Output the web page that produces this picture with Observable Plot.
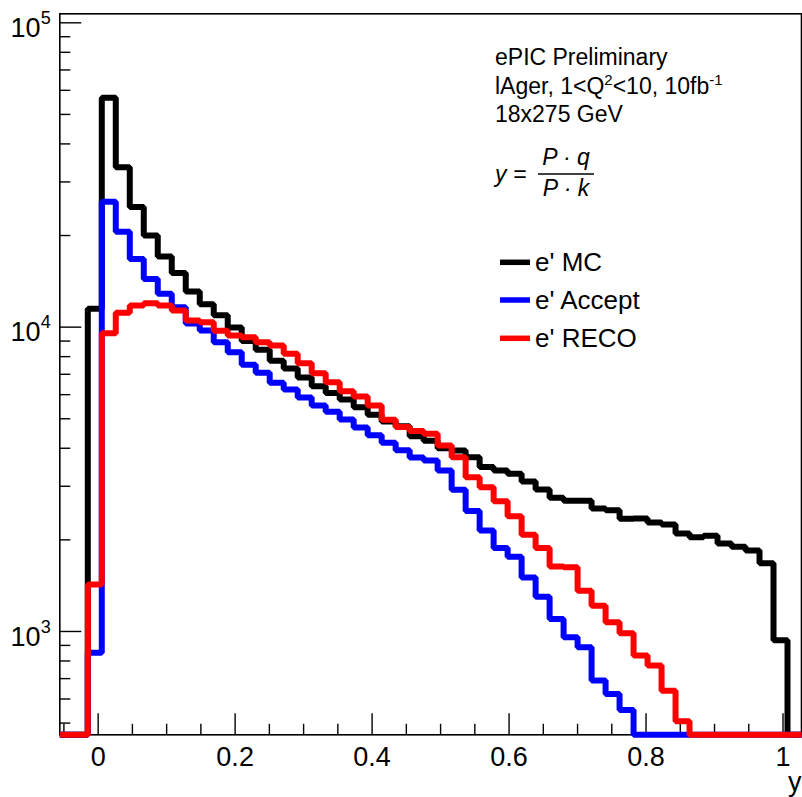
<!DOCTYPE html>
<html><head><meta charset="utf-8">
<script src="https://cdn.jsdelivr.net/npm/d3@7"></script>
<script src="https://cdn.jsdelivr.net/npm/@observablehq/plot@0.6"></script>
<style>html,body{margin:0;padding:0;background:#fff;} #chart svg{display:block;}</style>
</head><body><div id="chart"></div>
<script>
// ---- data ----
const xMin = -0.056, xMax = 1.027, nBins = 53;
const mcCounts = [0, 0, 11500, 56700, 33500, 24800, 20000, 17050, 15050, 13100,
  11900, 10950, 9970, 9000, 8420, 7750, 7310, 6830, 6400, 6080,
  5780, 5450, 5150, 4900, 4720, 4380, 4230, 4000, 3930, 3740,
  3470, 3380, 3300, 3110, 2930, 2750, 2690, 2690, 2535, 2500,
  2345, 2350, 2280, 2245, 2100, 2040, 2065, 1945, 1900, 1845,
  1675, 935, 0];
const acceptCounts = [0, 0, 851, 25800, 20570, 16760, 14400, 12870, 11630, 10275,
  9745, 8920, 8270, 7530, 7075, 6560, 6240, 5870, 5525, 5270,
  4970, 4680, 4410, 4170, 3940, 3730, 3645, 3380, 2920, 2490,
  2145, 1880, 1760, 1505, 1300, 1100, 957, 887, 690, 623,
  552, 0, 0, 0, 0, 0, 0, 0, 0, 0,
  0, 0, 0];
const recoCounts = [0, 0, 1426, 9550, 11140, 11780, 11985, 11780, 11340, 10510,
  10380, 9730, 9385, 9270, 8920, 8700, 8170, 7605, 7055, 6590,
  6160, 5915, 5525, 4960, 4700, 4560, 4460, 4083, 3737, 3213,
  2978, 2680, 2390, 2080, 1880, 1634, 1625, 1362, 1215, 1072,
  986, 834, 773, 639, 507, 0, 0, 0, 0, 0,
  0, 0, 0];
const seriesNames = ["e' MC", "e' Accept", "e' RECO"];
const seriesColors = ["#000000", "#0000ff", "#ff0000"];
const xMajorTicks = [0, 0.2, 0.4, 0.6, 0.8, 1];
const xMinorTicks = [-0.05, 0.05, 0.1, 0.15, 0.25, 0.3, 0.35, 0.45, 0.5, 0.55, 0.65, 0.7, 0.75, 0.85, 0.9, 0.95];
const yMajorTicks = [1000, 10000, 100000];
const yMinorTicks = [500, 600, 700, 800, 900, 2000, 3000, 4000, 5000, 6000, 7000, 8000, 9000,
  20000, 30000, 40000, 50000, 60000, 70000, 80000, 90000];
const yMin = 457.6, yMax = 107050;
const infoLines = ["ePIC Preliminary", "18x275 GeV"];
const xTitle = "y";

// ---- layout ----
const W = 802, H = 797;
const mL = 59.3, mR = 1, mT = 13.3, mB = 62.7;
const frameW = W - mL - mR, frameH = H - mT - mB;
const FONT = "'Liberation Sans', Arial, Helvetica, sans-serif";
const binW = (xMax - xMin) / nBins;

function steps(counts) {
  const pts = [];
  counts.forEach((c, i) => {
    const v = Math.max(c, yMin);
    pts.push({x: xMin + i * binW, y: v});
    pts.push({x: xMin + (i + 1) * binW, y: v});
  });
  return pts;
}
const allSeries = [mcCounts, acceptCounts, recoCounts];

const chart = Plot.plot({
  width: W, height: H,
  marginLeft: mL, marginRight: mR, marginTop: mT, marginBottom: mB,
  style: {fontFamily: FONT, background: "#fff", color: "#000"},
  x: {domain: [xMin, xMax], axis: null},
  y: {type: "log", domain: [yMin, yMax], axis: null},
  marks: [
    Plot.frame({stroke: "#000", strokeWidth: 1.6}),
    Plot.tickX(xMajorTicks, {x: d => d, insetTop: frameH - 21, stroke: "#000", strokeWidth: 1.4}),
    Plot.tickX(xMinorTicks, {x: d => d, insetTop: frameH - 10.5, stroke: "#000", strokeWidth: 1.4}),
    Plot.tickY(yMajorTicks, {y: d => d, insetRight: frameW - 22, stroke: "#000", strokeWidth: 1.4}),
    Plot.tickY(yMinorTicks, {y: d => d, insetRight: frameW - 11, stroke: "#000", strokeWidth: 1.4}),
    Plot.text(xMajorTicks, {x: d => d, frameAnchor: "bottom", text: d => String(d), lineAnchor: "bottom",
      dy: 30.7, fontSize: 27, fill: "#000", fontFamily: FONT}),
    Plot.text(yMajorTicks, {y: d => d, frameAnchor: "left", text: () => "10", textAnchor: "end", lineAnchor: "bottom",
      dx: -19.3, dy: 14.3, fontSize: 27, fill: "#000", fontFamily: FONT}),
    Plot.text(yMajorTicks, {y: d => d, frameAnchor: "left", text: d => String(Math.round(Math.log10(d))), textAnchor: "start",
      lineAnchor: "bottom", dx: -19, dy: 1.2, fontSize: 18, fill: "#000", fontFamily: FONT}),
    ...allSeries.map((counts, i) => Plot.line(steps(counts), {
      x: "x", y: "y", stroke: seriesColors[i], strokeWidth: 6,
      strokeLinejoin: "miter", strokeLinecap: "butt"
    }))
  ]
});
document.getElementById("chart").appendChild(chart);

// ---- annotations ----
const svg = d3.select(chart);
const g = svg.append("g").attr("font-family", FONT).attr("fill", "#000").attr("text-anchor", "start");
g.append("text").attr("x", 495).attr("y", 65).attr("font-size", 23).text(infoLines[0]);
const l2 = g.append("text").attr("x", 495).attr("y", 93.5).attr("font-size", 23);
l2.append("tspan").text("lAger, 1<Q");
l2.append("tspan").attr("dy", -9).attr("font-size", 15).text("2");
l2.append("tspan").attr("dy", 9).text("<10, 10fb");
l2.append("tspan").attr("dy", -9).attr("font-size", 15).text("-1");
g.append("text").attr("x", 495).attr("y", 122).attr("font-size", 23).text(infoLines[1]);

// formula
const fg = g.append("g").attr("font-style", "italic").attr("font-size", 23);
fg.append("text").attr("x", 495).attr("y", 182).text("y =");
fg.append("text").attr("x", 566).attr("y", 165).attr("text-anchor", "middle").text("P \u00b7 q");
fg.append("text").attr("x", 566).attr("y", 196).attr("text-anchor", "middle").text("P \u00b7 k");
fg.append("line").attr("x1", 538).attr("x2", 594).attr("y1", 174).attr("y2", 174)
  .attr("stroke", "#000").attr("stroke-width", 1.5);

// legend
const legY = [262.3, 300, 338.3];
seriesNames.forEach((name, i) => {
  g.append("line").attr("x1", 500).attr("x2", 530).attr("y1", legY[i]).attr("y2", legY[i])
    .attr("stroke", seriesColors[i]).attr("stroke-width", 5.5);
  g.append("text").attr("x", 535).attr("y", legY[i] + 9).attr("font-size", 26).text(name);
});

// x-axis title
g.append("text").attr("x", 801.5).attr("y", 791).attr("text-anchor", "end").attr("font-size", 27).text(xTitle);
</script>
</body></html>
